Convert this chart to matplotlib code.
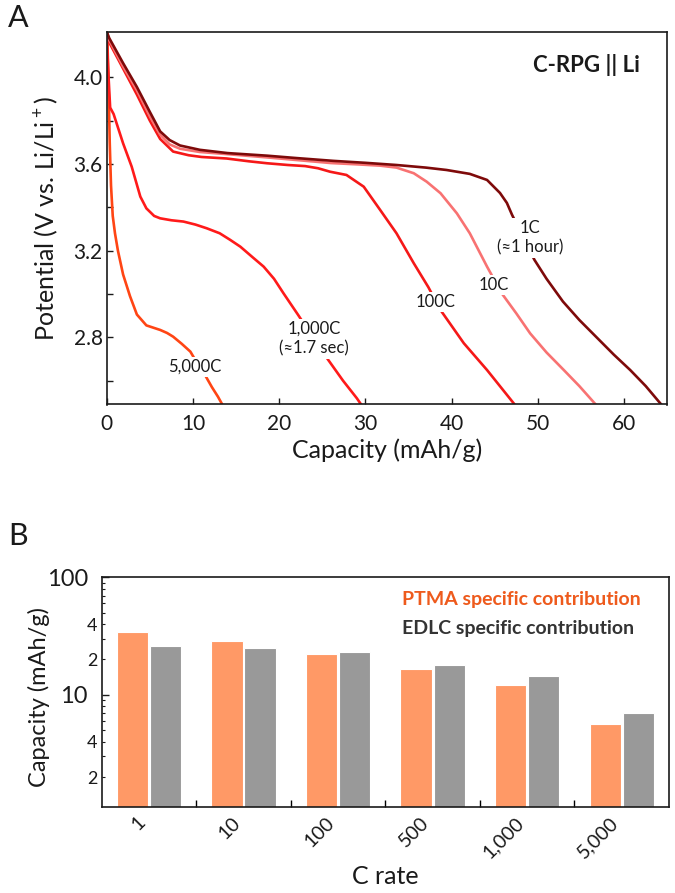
import matplotlib
matplotlib.use("Agg")
import matplotlib.pyplot as plt
from matplotlib.ticker import FixedLocator, FixedFormatter, FuncFormatter, MultipleLocator
import numpy as np

plt.rcParams['font.family'] = ['Lato', 'DejaVu Sans']
plt.rcParams['mathtext.fontset'] = 'custom'
plt.rcParams['mathtext.rm'] = 'Lato'

# ---------------- Panel A data (capacity mAh/g, potential V) ----------------
cap_1C = [0.0, 0.3, 1.9, 3.5, 5.0, 6.2, 7.3, 8.5, 10.8, 14.0, 18.6, 22.0, 26.3, 30.0, 33.6, 37.0,
          39.4, 42.1, 44.1, 45.6, 46.4, 47.0, 48.3, 49.6, 51.0, 52.9, 54.8, 56.8, 58.8, 60.7, 62.5, 64.3]
pot_1C = [4.21, 4.18, 4.065, 3.955, 3.84, 3.75, 3.71, 3.685, 3.665, 3.65, 3.638, 3.627, 3.614, 3.605,
          3.595, 3.583, 3.572, 3.554, 3.526, 3.466, 3.42, 3.365, 3.26, 3.157, 3.07, 2.965, 2.88, 2.80,
          2.72, 2.649, 2.575, 2.49]

cap_10C = [0.0, 0.3, 1.9, 3.5, 5.0, 6.2, 7.3, 8.5, 10.8, 14.0, 18.6, 22.0, 26.0, 29.0, 31.7, 33.6,
           35.6, 37.1, 38.7, 40.6, 42.1, 44.1, 45.8, 47.5, 49.1, 51.0, 53.0, 54.8, 56.7]
pot_10C = [4.21, 4.17, 4.05, 3.94, 3.82, 3.735, 3.69, 3.67, 3.655, 3.645, 3.63, 3.618, 3.604, 3.598,
           3.592, 3.583, 3.557, 3.518, 3.465, 3.372, 3.28, 3.126, 3.003, 2.91, 2.818, 2.73, 2.649,
           2.575, 2.49]

cap_100C = [0.0, 0.3, 1.9, 3.5, 5.0, 6.2, 7.7, 9.5, 11.0, 13.9, 16.5, 18.6, 21.0, 23.0, 24.5, 25.9,
            27.8, 29.8, 31.7, 33.6, 35.6, 37.3, 38.7, 41.4, 44.1, 47.3]
pot_100C = [4.21, 4.16, 4.04, 3.92, 3.80, 3.715, 3.657, 3.64, 3.632, 3.625, 3.612, 3.603, 3.595,
            3.59, 3.58, 3.564, 3.549, 3.495, 3.388, 3.28, 3.142, 3.031, 2.926, 2.773, 2.649, 2.49]

cap_1000C = [0.0, 0.15, 0.4, 0.8, 1.9, 2.9, 3.9, 4.6, 5.5, 6.2, 7.5, 8.9, 10.3, 11.6, 13.1, 14.3,
             15.5, 16.9, 18.2, 19.4, 20.5, 22.2, 23.9, 25.7, 27.4, 29.0, 29.5]
pot_1000C = [4.21, 4.05, 3.86, 3.83, 3.695, 3.587, 3.449, 3.395, 3.36, 3.349, 3.34, 3.334, 3.32,
             3.303, 3.28, 3.25, 3.218, 3.17, 3.126, 3.07, 3.003, 2.903, 2.80, 2.695, 2.60, 2.519, 2.49]

cap_5000C = [0.05, 0.2, 0.35, 0.5, 0.7, 0.96, 1.3, 1.9, 2.7, 3.5, 4.6, 6.2, 7.0, 7.7, 8.7, 9.7,
             10.5, 11.4, 12.2, 12.9, 13.4]
pot_5000C = [4.21, 4.0, 3.7, 3.5, 3.36, 3.28, 3.2, 3.09, 2.99, 2.905, 2.855, 2.834, 2.82, 2.803,
             2.77, 2.734, 2.68, 2.626, 2.57, 2.526, 2.49]

curve_labels = ["1C\n(≈1 hour)", "10C", "100C", "1,000C\n(≈1.7 sec)", "5,000C"]

# ---------------- Panel B data ----------------
c_rates = ["1", "10", "100", "500", "1,000", "5,000"]
ptma = [34.0, 29.0, 22.4, 16.6, 12.2, 5.65]
edlc = [26.0, 25.2, 23.1, 18.0, 14.4, 7.0]
y_major_ticks = [10, 100]
y_major_labels = ["10", "100"]
y_minor_labeled = [2, 4, 20, 40]
y_minor_labels = ["2", "4", "2", "4"]

# ---------------- Figure ----------------
W, H = 675, 893
fig = plt.figure(figsize=(W / 100, H / 100), dpi=100)

def rect(l, t, r, b):
    return [l / W, 1 - b / H, (r - l) / W, (b - t) / H]

INK = "#1a1a1a"

# ---- Panel A ----
A_l, A_t, A_r, A_b = 106.7, 31.7, 667.3, 404.5
axA = fig.add_axes(rect(A_l, A_t, A_r, A_b))
lw = 1.9
axA.plot(cap_5000C, pot_5000C, color="#FF4514", lw=lw, zorder=2)
axA.plot(cap_1000C, pot_1000C, color="#FF1A1A", lw=lw, zorder=2)
axA.plot(cap_100C, pot_100C, color="#F51818", lw=lw, zorder=2)
axA.plot(cap_10C, pot_10C, color="#F87272", lw=lw, zorder=2)
axA.plot(cap_1C, pot_1C, color="#7E0A0A", lw=lw, zorder=2)

axA.set_xlim(0, 65)
axA.set_ylim(2.49, 4.21)
axA.xaxis.set_major_locator(MultipleLocator(10))
axA.yaxis.set_major_locator(FixedLocator([2.8, 3.2, 3.6, 4.0]))
axA.yaxis.set_minor_locator(FixedLocator([2.6, 3.0, 3.4, 3.8]))
axA.yaxis.set_major_formatter(FuncFormatter(lambda v, p: f"{v:.1f}"))
axA.tick_params(axis='both', which='both', direction='in', top=False, right=False,
                labelsize=15, colors=INK)
axA.tick_params(axis='x', which='major', length=4, width=1, pad=7)
axA.tick_params(axis='y', which='major', length=4, width=1, pad=3)
axA.tick_params(axis='y', which='minor', length=4, width=1)
for s in axA.spines.values():
    s.set_linewidth(1.2)
    s.set_color(INK)

axA.set_xlabel("Capacity (mAh/g)", fontsize=18, color=INK)
axA.xaxis.set_label_coords(0.5, (A_b - 450) / (A_b - A_t))
axA.xaxis.label.set_va('center')
axA.set_ylabel("Potential (V vs. Li/Li$^+$)", fontsize=18, labelpad=9, color=INK)

lab_kw = dict(fontsize=12, ha='center', va='center', color=INK, zorder=5,
              bbox=dict(facecolor='white', edgecolor='none', pad=1.5), linespacing=1.25)
label_pos = [(49.1, 3.258), (44.85, 3.042), (38.1, 2.964), (24.05, 2.793), (10.24, 2.665)]
for txt, (xx, yy) in zip(curve_labels, label_pos):
    axA.text(xx, yy, txt, **lab_kw)

axA.text(0.951, 0.911, "C-RPG || Li", transform=axA.transAxes, ha='right', va='center',
         fontsize=16, fontweight='bold', color=INK)

fig.text(8 / W, 1 - 18 / H, "A", fontsize=22, ha='left', va='center', color=INK)

# ---- Panel B ----
B_l, B_t, B_r, B_b = 101.7, 577.3, 669.0, 806.7
axB = fig.add_axes(rect(B_l, B_t, B_r, B_b))
x = np.arange(len(c_rates))
bw = 0.33
off = 0.175
axB.bar(x - off, ptma, width=bw, color="#FF9966", edgecolor="white", linewidth=0.8, zorder=2)
axB.bar(x + off, edlc, width=bw, color="#999999", edgecolor="white", linewidth=0.8, zorder=2)
axB.set_yscale('log')
axB.set_ylim(1.12, 100)
axB.set_xlim(-0.5, len(c_rates) - 0.5)

axB.yaxis.set_major_locator(FixedLocator(y_major_ticks))
axB.yaxis.set_major_formatter(FixedFormatter(y_major_labels))
minor_all = [v * d for d in (1, 10) for v in range(2, 10)]
axB.yaxis.set_minor_locator(FixedLocator(minor_all))
minor_map = dict(zip(y_minor_labeled, y_minor_labels))
axB.yaxis.set_minor_formatter(FuncFormatter(
    lambda v, p: next((lbl for k, lbl in minor_map.items() if abs(v - k) < 1e-6), "")))
axB.tick_params(axis='y', which='major', direction='in', length=5, width=1, labelsize=17,
                pad=10, colors=INK, right=False)
axB.tick_params(axis='y', which='minor', direction='in', length=2.5, width=0.8, labelsize=13,
                pad=3, colors=INK, right=False)

# x: ticks at group boundaries, labels at group centres
axB.set_xticks(np.arange(len(c_rates) - 1) + 0.5)
axB.set_xticklabels([""] * (len(c_rates) - 1))
axB.set_xticks(x, minor=True)
axB.set_xticklabels(c_rates, minor=True, rotation=45, ha='right', fontsize=14, color=INK)
axB.tick_params(axis='x', which='major', direction='in', length=5, width=1, top=False)
axB.tick_params(axis='x', which='minor', length=0, pad=5, top=False)
for s in axB.spines.values():
    s.set_linewidth(1.2)
    s.set_color(INK)

fig.text(385 / W, 1 - 876 / H, "C rate", fontsize=18, ha='center', va='center', color=INK)
axB.set_ylabel("Capacity (mAh/g)", fontsize=17, color=INK)
axB.yaxis.set_label_coords((39 - B_l) / (B_r - B_l), (B_b - 697) / (B_b - B_t))
axB.yaxis.label.set_va('center')

axB.text(0.529, 0.905, "PTMA specific contribution", transform=axB.transAxes, ha='left',
         va='center', fontsize=14, fontweight='bold', color="#EE5A1C")
axB.text(0.529, 0.775, "EDLC specific contribution", transform=axB.transAxes, ha='left',
         va='center', fontsize=14, fontweight='bold', color="#333333")

fig.text(8 / W, 1 - 536 / H, "B", fontsize=22, ha='left', va='center', color=INK)

fig.savefig("out.png", dpi=100)
